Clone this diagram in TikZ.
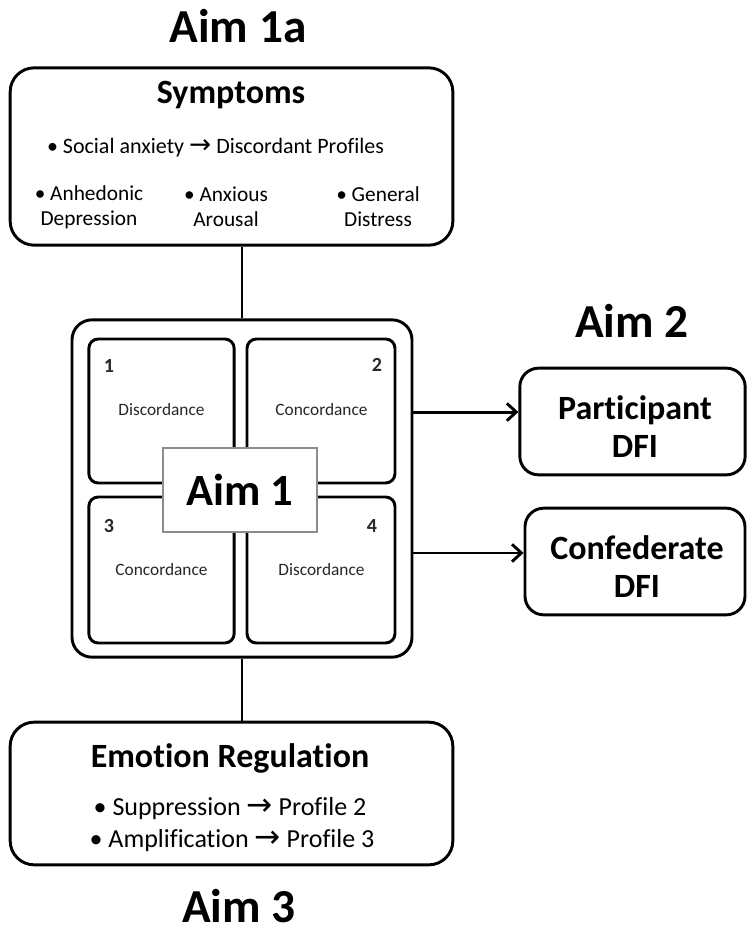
\documentclass[tikz,border=0pt]{standalone}
\usepackage{fontspec}
\setmainfont{Carlito}[Ligatures=NoCommon]
\newfontfamily\arrowfont{DejaVu Sans}[Scale=1.2]
\newcommand{\toarrow}{{\arrowfont →}}
\usetikzlibrary{arrows.meta}

\begin{document}
\begin{tikzpicture}[x=0.75pt,y=-0.75pt,>={Straight Barb[length=7pt,width=13pt]},
                    line width=2.2pt,
                    aim/.style={font=\fontsize{35.5}{40}\selectfont\bfseries,anchor=base},
                    head/.style={font=\fontsize{25.5}{28.5}\selectfont\bfseries},
                    item/.style={font=\fontsize{16}{18.75}\selectfont,align=center},
                    bigbox/.style={draw,rounded corners=18pt},
                    cell/.style={draw,rounded corners=7pt,minimum width=109pt,minimum height=108pt},
                    dfibox/.style={draw,rounded corners=14pt,minimum height=80pt},
                    tag/.style={font=\fontsize{13}{15}\selectfont,text=black!85,anchor=base},
                    num/.style={font=\fontsize{15}{17}\selectfont\bfseries,text=black!85,anchor=base}]
%  \tikzstyle{every node}=[inner sep=2pt]
  \useasboundingbox (0,0) rectangle (747,935);

  % titles
  \node[aim] (aim1a) at (238,42)  {Aim 1a};
  \node[aim] (aim2)  at (632,337) {Aim 2};
  \node[aim] (aim3)  at (239,922) {Aim 3};

  % symptoms
  \node[bigbox,minimum width=332pt,minimum height=133pt] (sym) at (231.5,156.5) {};
  \node[head,anchor=base] (symhead) at (231,103) {Symptoms};
  \node[item,anchor=base,font=\fontsize{16.5}{18.75}\selectfont] (social) at (215.5,153) {• Social anxiety \toarrow{} Discordant Profiles};
  \node[item] (anhed) at (89,207)  {• Anhedonic\\Depression};
  \node[item] (anxar) at (226,207) {• Anxious\\Arousal};
  \node[item] (gendi) at (378,207) {• General\\Distress};

  % profiles
  \node[bigbox,rounded corners=15pt,minimum width=255pt,minimum height=253pt] (prof) at (242,488.5) {};
  \node[cell] (p1) at (161.5,411) {};
  \node[cell,minimum width=111pt] (p2) at (321,411) {};
  \node[cell,minimum height=109.5pt] (p3) at (161.5,570) {};
  \node[cell,minimum width=111pt,minimum height=109.5pt] (p4) at (321,570) {};
  \node[num] (n1) at (109,372) {1};
  \node[num] (n2) at (377,371) {2};
  \node[num] (n3) at (109,532) {3};
  \node[num] (n4) at (372,532) {4};
  \node[tag] (t1) at (161.5,415) {Discordance};
  \node[tag] (t2) at (321.5,415) {Concordance};
  \node[tag] (t3) at (161.5,575) {Concordance};
  \node[tag] (t4) at (321.5,575) {Discordance};
  \node[draw=black!45,fill=white,line width=2pt,minimum width=115.5pt,minimum height=63pt,
        font=\fontsize{33.5}{36}\selectfont\bfseries] (aim1) at (240,490) {Aim 1};

  % DFI
  \node[dfibox,minimum width=169pt] (part) at (632.5,421.5) {};
  \node[head,align=center] (parttxt) at (635,427) {Participant\\DFI};
  \node[dfibox,minimum width=165pt] (conf) at (635,561.5) {};
  \node[head,align=center] (conftxt) at (637,567) {Confederate\\DFI};

  % emotion regulation
  \node[bigbox,minimum width=332pt,minimum height=107pt] (emo) at (231.5,793.5) {};
  \node[head,anchor=base] (emohead) at (230,767) {Emotion Regulation};
  \node[font=\fontsize{19.5}{24}\selectfont,anchor=base] (supp) at (230,815) {• Suppression \toarrow{} Profile 2};
  \node[font=\fontsize{19.5}{24}\selectfont,anchor=base] (ampl) at (232,847) {• Amplification \toarrow{} Profile 3};

  % links
  \coordinate (pin)  at ([yshift=7.1pt]part.west);
  \coordinate (cin)  at ([yshift=6.4pt]conf.west);
  \path (prof.north) edge (prof.north |- sym.south)
        (prof.south) edge (prof.south |- emo.north)
        (prof.east |- pin) edge[->] (pin)
        (prof.east |- cin) edge[->] (cin);

\end{tikzpicture}
\end{document}
